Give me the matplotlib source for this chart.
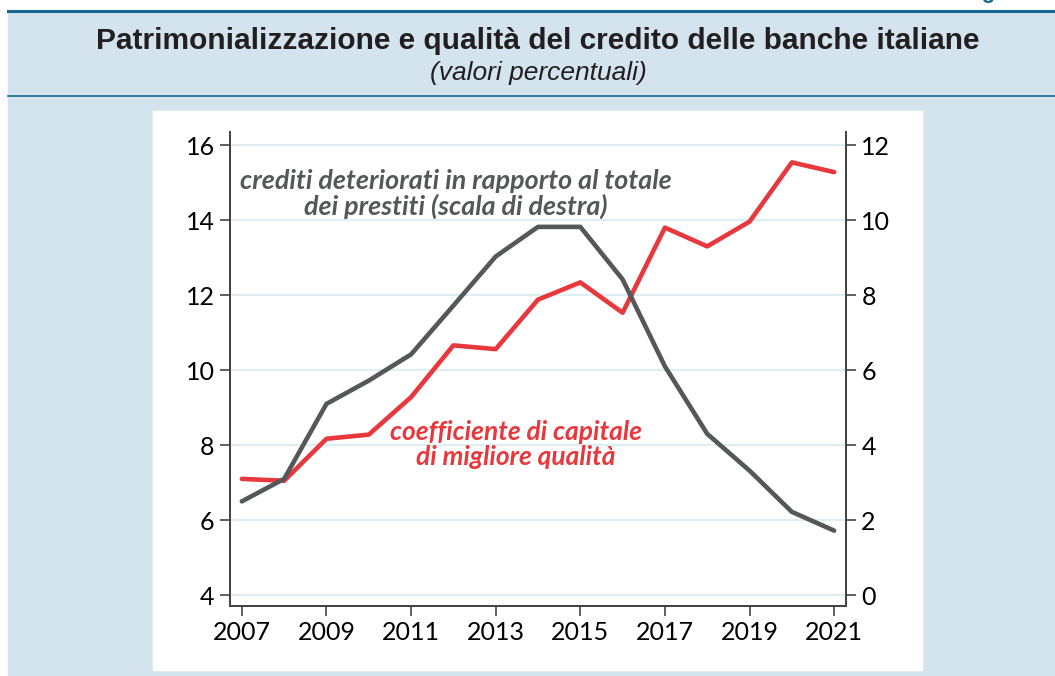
import matplotlib.pyplot as plt
from matplotlib.patches import Rectangle
from matplotlib.lines import Line2D

# dati
anni = list(range(2007, 2022))
cet1 = [7.1, 7.05, 8.17, 8.28, 9.28, 10.66, 10.56, 11.88, 12.34, 11.53,
        13.8, 13.3, 13.96, 15.54, 15.28]  # scala di sinistra
npl = [2.5, 3.1, 5.1, 5.72, 6.42, 7.72, 9.03, 9.82, 9.82, 8.42,
       6.1, 4.3, 3.32, 2.22, 1.72]  # scala di destra

left_ticks = [4, 6, 8, 10, 12, 14, 16]
right_ticks = [0, 2, 4, 6, 8, 10, 12]
year_ticks = [2007, 2009, 2011, 2013, 2015, 2017, 2019, 2021]

RED = "#e8383d"
GRAY = "#555759"
BG = "#d4e4ee"
NAVY = "#17688f"

W, H = 1055, 676
fig = plt.figure(figsize=(W / 100, H / 100), dpi=100)
fig.patch.set_facecolor("white")

def px(x0, y0, x1, y1):
    # rettangolo in pixel -> coordinate figura
    return (x0 / W, 1 - y1 / H, (x1 - x0) / W, (y1 - y0) / H)

x, y, w, h = px(8, 11, W, H)
fig.add_artist(Rectangle((x, y), w, h, transform=fig.transFigure, color=BG, zorder=0))
x, y, w, h = px(153, 111, 922, 670)
fig.add_artist(Rectangle((x, y), w, h, transform=fig.transFigure, color="white", zorder=0))
fig.add_artist(Line2D([8 / W, 1], [1 - 11 / H] * 2, color=NAVY, lw=2.2))
fig.add_artist(Line2D([8 / W, 1], [1 - 96 / H] * 2, color=NAVY, lw=1.2))

# intestazione tagliata in alto, come nell'originale
fig.text(1030 / W, 1 + 2 / H, "Figura", color=NAVY, fontsize=16, fontweight="bold",
         family="Liberation Sans", ha="right", va="baseline")
fig.text(538 / W, 1 - 41 / H, "Patrimonializzazione e qualità del credito delle banche italiane",
         fontsize=21.5, fontweight="bold", family="Liberation Sans", color="#231f20",
         ha="center", va="center")
fig.text(538 / W, 1 - 73 / H, "(valori percentuali)", fontsize=19, style="italic",
         family="Liberation Sans", color="#231f20", ha="center", va="center")

ax = fig.add_axes([230 / W, 1 - 606 / H, (846 - 230) / W, (606 - 132) / H])
ax.set_facecolor("none")
ax.plot(anni, cet1, color=RED, lw=3.3, solid_capstyle="round", zorder=3)
ax.set_xlim(2006.72, 2021.28)
ax.set_ylim(3.71, 16.35)
ax.set_yticks(left_ticks)
ax.set_xticks(year_ticks)
for v in left_ticks:
    ax.axhline(v, color="#ddeff2", lw=1.5, zorder=1)

ax2 = ax.twinx()
ax2.plot(anni, npl, color=GRAY, lw=3.3, solid_capstyle="round", zorder=3)
ax2.set_ylim(3.71 - 4, 16.35 - 4)
ax2.set_yticks(right_ticks)

for a in (ax, ax2):
    a.spines["top"].set_visible(False)
    for s in ("left", "right", "bottom"):
        a.spines[s].set_color("#444444")
        a.spines[s].set_linewidth(1.3)
    a.tick_params(direction="out", length=7, width=1.2, color="#444444",
                  labelsize=18, pad=4)
    for lab in a.get_xticklabels() + a.get_yticklabels():
        lab.set_family("Lato")

ax.text(2012.06, 14.69, "crediti deteriorati in rapporto al totale\ndei prestiti (scala di destra)",
        color=GRAY, fontsize=19.4, fontweight="bold", style="italic", family="Lato",
        ha="center", va="center", linespacing=1.05)
ax.text(2013.48, 8.01, "coefficiente di capitale\ndi migliore qualità",
        color=RED, fontsize=19, fontweight="bold", style="italic", family="Lato",
        ha="center", va="center", linespacing=1.05)

fig.savefig("out.png", dpi=100)
